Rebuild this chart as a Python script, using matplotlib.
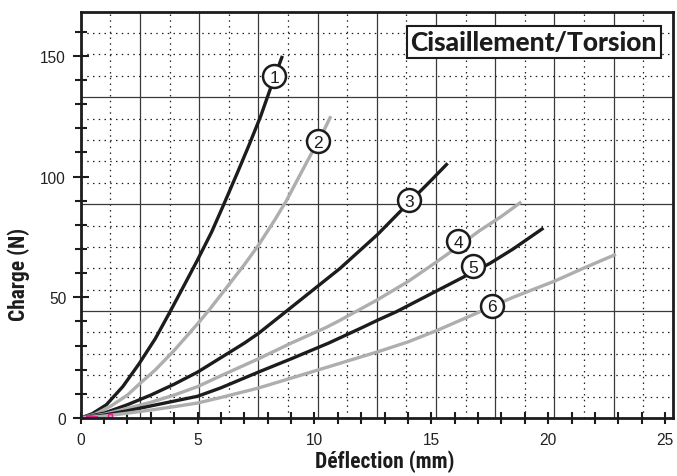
import numpy as np
import matplotlib.pyplot as plt

# Courbes charge / déflection (mm, N)
x1 = [0, 0.5, 1.1, 1.8, 2.5, 3.2, 3.85, 4.4, 5.0, 5.6, 6.1, 6.7, 7.2, 7.7, 8.1, 8.4, 8.63]
y1 = [0, 1.8, 5.5, 13, 22.5, 33, 44.5, 54.5, 65.5, 77, 88, 101.5, 113, 125, 136, 144, 150]

x2 = [0, 0.6, 1.3, 2.0, 2.5, 3.2, 4.0, 5.0, 5.5, 6.4, 7.0, 7.6, 8.3, 8.8, 9.4, 9.95, 10.4, 10.7]
y2 = [0, 1.5, 5, 9.5, 14, 20, 28, 39, 44.8, 56, 63.5, 71.5, 82, 90, 101, 111, 119, 125]

x3 = [0, 1, 2, 3, 4, 5, 6, 7, 7.6, 8.9, 10, 11.1, 12.7, 14, 15, 15.7]
y3 = [0, 2, 5.5, 9.5, 14, 19, 25, 31, 35, 45, 53.5, 62, 76, 88.8, 98.5, 105.5]

x4 = [0, 1, 2, 3, 4, 5, 6, 7.6, 9, 10.5, 11.1, 12.7, 14, 15.2, 16.15, 17.05, 18, 18.85]
y4 = [0, 1.5, 4, 6.5, 9.5, 13, 17.5, 24.5, 31, 37.5, 40.5, 49, 56.5, 64.5, 71, 77.5, 83.5, 89.5]

x5 = [0, 1, 2, 3, 4, 5, 6, 7.6, 9, 10.6, 12.05, 12.7, 13.5, 15.2, 16.5, 17.5, 18.5, 19.8]
y5 = [0, 1.2, 3, 5, 7, 9, 12.5, 19, 24.5, 31, 37.5, 40.5, 44, 52.5, 59, 64, 70, 78.7]

x6 = [0, 1, 2, 3, 4, 5, 6, 7.6, 9, 10.6, 12.7, 14, 15.3, 17.05, 18.5, 20.3, 21.5, 22.9]
y6 = [0, 0.8, 2, 3.3, 4.7, 6.2, 8.5, 12.4, 16.5, 21.2, 27.4, 31.5, 36.5, 43.9, 50, 56.8, 62, 67.8]

# repères numérotés
num = ['1', '2', '3', '4', '5', '6']
num_x = [8.29, 10.17, 14.05, 16.15, 16.78, 17.6]
num_y = [141.7, 114.8, 90.2, 73.4, 63, 46.6]

noir = '#1c1c1c'
gris = '#aeaeae'
etroite = ['Liberation Sans Narrow', 'Roboto Condensed', 'DejaVu Sans']

fig = plt.figure(figsize=(6.77, 4.77), dpi=100)
ax = fig.add_axes([0.1192, 0.1216, 0.8748, 0.8512])

xmax, ymax = 25.34, 168.2
ax.set_xlim(0, xmax)
ax.set_ylim(0, ymax)

# quadrillage (indépendant des graduations)
pointille = (0, (1.2, 3.4))
for k in range(1, 20):
    xv = xmax * k / 20
    if k % 2 == 0:
        ax.axvline(xv, color='#3a3a3a', lw=0.9, zorder=1)
    else:
        ax.axvline(xv, color='#222222', lw=0.9, ls=pointille, zorder=1)
pas = 8.86
for k in range(1, 19):
    yh = pas * k
    if k % 5 == 0:
        ax.axhline(yh, color='#3a3a3a', lw=0.9, zorder=1)
    else:
        ax.axhline(yh, color='#222222', lw=0.9, ls=pointille, zorder=1)

courbes = [(x1, y1), (x2, y2), (x3, y3), (x4, y4), (x5, y5), (x6, y6)]
for i, (xs, ys) in enumerate(courbes):
    c = noir if i % 2 == 0 else gris
    ax.plot(xs, ys, color=c, lw=2.4, solid_capstyle='butt',
            solid_joinstyle='round', zorder=3)

# petites marques magenta à l'origine
ax.plot([0.25, 0.65], [0.6, 0.6], color='#e0208c', lw=2.2, zorder=4)
ax.plot([1.25], [0.8], marker='s', ms=3.5, mfc='none', mec='#e0208c', mew=1, zorder=4)

for n, xm, ym in zip(num, num_x, num_y):
    ax.plot(xm, ym, marker='o', ms=16.5, mfc='white', mec=noir, mew=1.8, zorder=5)
    ax.text(xm, ym - 0.5, n, ha='center', va='center', fontsize=12.5,
            family='Liberation Sans', color=noir, zorder=6)

ax.text(0.765, 0.925, 'Cisaillement/Torsion', transform=ax.transAxes,
        ha='center', va='center', fontsize=19, fontweight='black', family='Lato',
        color=noir, zorder=7,
        bbox=dict(boxstyle='square,pad=0.15', fc='white', ec=noir, lw=1.5))

# graduations
ax.set_xticks(np.arange(0, 26, 5))
ax.set_xticks(np.arange(0, 26, 1), minor=True)
ax.set_yticks([0, 50, 100, 150])
ax.set_yticks(np.arange(0, 161, 10), minor=True)
ax.tick_params(which='both', direction='inout', width=1.5, color=noir,
               labelsize=11.2, labelcolor='#222222', labelfontfamily='Liberation Sans')
ax.tick_params(axis='x', which='major', length=8, pad=6)
ax.tick_params(axis='x', which='minor', length=8)
ax.tick_params(axis='y', which='major', length=11, pad=5)
ax.tick_params(axis='y', which='minor', length=8)

for s in ax.spines.values():
    s.set_linewidth(2.0)
    s.set_color(noir)
    s.set_zorder(8)

ax.set_xlabel('Déflection (mm)', family=etroite, fontstretch='condensed',
              fontweight='bold', fontsize=15.5, color=noir)
ax.set_ylabel('Charge (N)', family=etroite, fontstretch='condensed',
              fontweight='bold', fontsize=15.5, color=noir)
ax.xaxis.set_label_coords(0.514, -0.078)
ax.yaxis.set_label_coords(-0.085, 0.357)

fig.savefig('out.png', dpi=100)
